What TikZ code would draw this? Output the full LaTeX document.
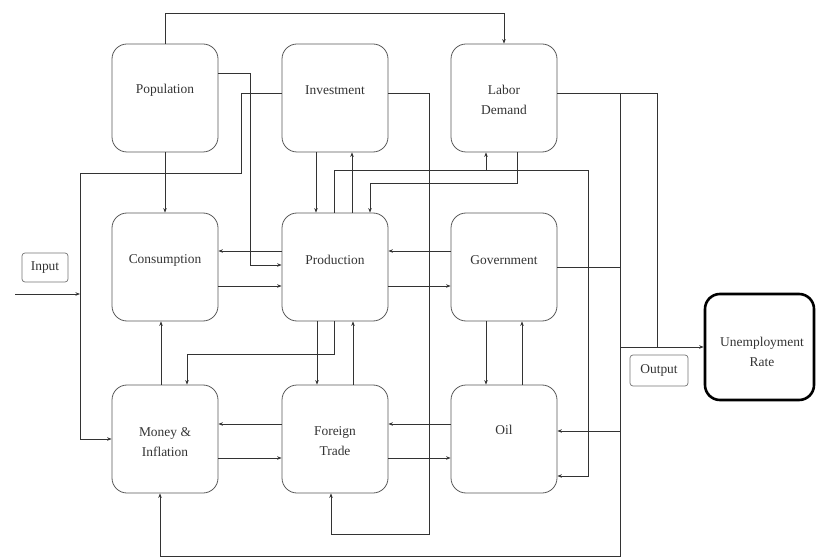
\documentclass[tikz,border=0pt]{standalone}
\usepackage{fontspec}
\setmainfont{Liberation Serif}
\usetikzlibrary{arrows.meta}
\begin{document}
\begin{tikzpicture}[x=1bp,y=-1bp,
  box/.style={draw=black!65,line width=0.8bp,rounded corners=15bp,minimum width=106bp,minimum height=108bp,inner sep=0pt},
  small/.style={draw=black!55,line width=0.7bp,rounded corners=3bp,inner sep=0pt},
  lbl/.style={text=black!80,font=\fontsize{13.5}{19.5}\selectfont,align=center,inner sep=0pt},
  conn/.style={draw=black!80,line width=0.8bp},
  arr/.style={conn,-{Stealth[length=4.5bp,width=3.5bp]}}]
\useasboundingbox (0,0) rectangle (816,558);
% boxes
\node[box] (pop) at (165,98) {};
\node[box] (inv) at (335,98) {};
\node[box] (lab) at (504,98) {};
\node[box] (cons) at (165,267) {};
\node[box] (prod) at (335,267) {};
\node[box] (gov) at (504,267) {};
\node[box] (mon) at (165,439) {};
\node[box] (ft) at (335,439) {};
\node[box] (oil) at (504,439) {};
\node[draw=black,line width=2.6bp,rounded corners=15bp,minimum width=109bp,minimum height=106bp,inner sep=0pt] (ur) at (759.5,347) {};
\node[small,minimum width=46bp,minimum height=29bp] (inp) at (45,267.5) {};
\node[small,minimum width=58bp,minimum height=31bp] (out) at (659,370.5) {};
% labels
\node[lbl] (popt) at (165,90) {Population};
\node[lbl] (invt) at (335,90) {Investment};
\node[lbl] (labt) at (504,100) {Labor\\Demand};
\node[lbl] (const) at (165,260) {Consumption};
\node[lbl] (prodt) at (335,260) {Production};
\node[lbl] (govt) at (504,260) {Government};
\node[lbl] (mont) at (165,442) {Money \&\\Inflation};
\node[lbl] (ftt) at (335,441) {Foreign\\Trade};
\node[lbl] (oilt) at (504,430) {Oil};
\node[lbl] (urt) at (762,352) {Unemployment\\Rate};
\node[lbl] (inpt) at (45,267.5) {Input};
\node[lbl] (outt) at (659,370.5) {Output};
% junction coordinates
\coordinate (instart) at (15,294);
\coordinate (injoin) at (80,294);
\coordinate (busU) at (620,347);
\coordinate (busO) at (620,431);
\coordinate (busG) at (620,267);
% connectors
\draw[arr] (pop.north) -- (pop.north |- 0,13) -| (lab.north);
\draw[arr] (pop.east |- 0,73) -| (250,265) -- (prod.west |- 0,265);
\draw[arr] (pop.south) -- (cons.north);
\draw[arr] (inv.west |- 0,93) -| (241,173) -| (80,439) -- (mon.west);
\draw[arr] (instart) -- (injoin);
\draw[arr] (inv.east |- 0,93) -| (429,534) -| (ft.south -| 331,0);
\draw[arr] (inv.south -| 316,0) -- (prod.north -| 316,0);
\draw[arr] (prod.north -| 352,0) -- (inv.south -| 352,0);
\draw[arr] (prod.north -| 334,0) |- (486,170) -- (lab.south -| 486,0);
\draw[arr] (prod.north -| 334,0) |- (588,170) |- (oil.east |- 0,476);
\draw[arr] (lab.south -| 517,0) |- (370,183) -- (prod.north -| 370,0);
\draw[conn] (lab.east |- 0,93) -| (busU -| 657,0);
\draw[arr] (busU) -- (ur.west);
\draw[arr] (lab.east |- 0,93) -| (620,556) -| (mon.south -| 160,0);
\draw[arr] (busO) -- (oil.east |- busO);
\draw[conn] (gov.east |- busG) -- (busG);
\draw[arr] (prod.west |- 0,251) -- (cons.east |- 0,251);
\draw[arr] (cons.east |- 0,286) -- (prod.west |- 0,286);
\draw[arr] (gov.west |- 0,251) -- (prod.east |- 0,251);
\draw[arr] (prod.east |- 0,286) -- (gov.west |- 0,286);
\draw[arr] (prod.south -| 317,0) -- (ft.north -| 317,0);
\draw[arr] (prod.south -| 334,0) |- (187,354) -- (mon.north -| 187,0);
\draw[arr] (ft.north -| 353,0) -- (prod.south -| 353,0);
\draw[arr] (mon.north -| 161,0) -- (cons.south -| 161,0);
\draw[arr] (ft.west |- 0,424) -- (mon.east |- 0,424);
\draw[arr] (mon.east |- 0,458) -- (ft.west |- 0,458);
\draw[arr] (oil.west |- 0,424) -- (ft.east |- 0,424);
\draw[arr] (ft.east |- 0,458) -- (oil.west |- 0,458);
\draw[arr] (gov.south -| 486,0) -- (oil.north -| 486,0);
\draw[arr] (oil.north -| 522,0) -- (gov.south -| 522,0);
\end{tikzpicture}
\end{document}
